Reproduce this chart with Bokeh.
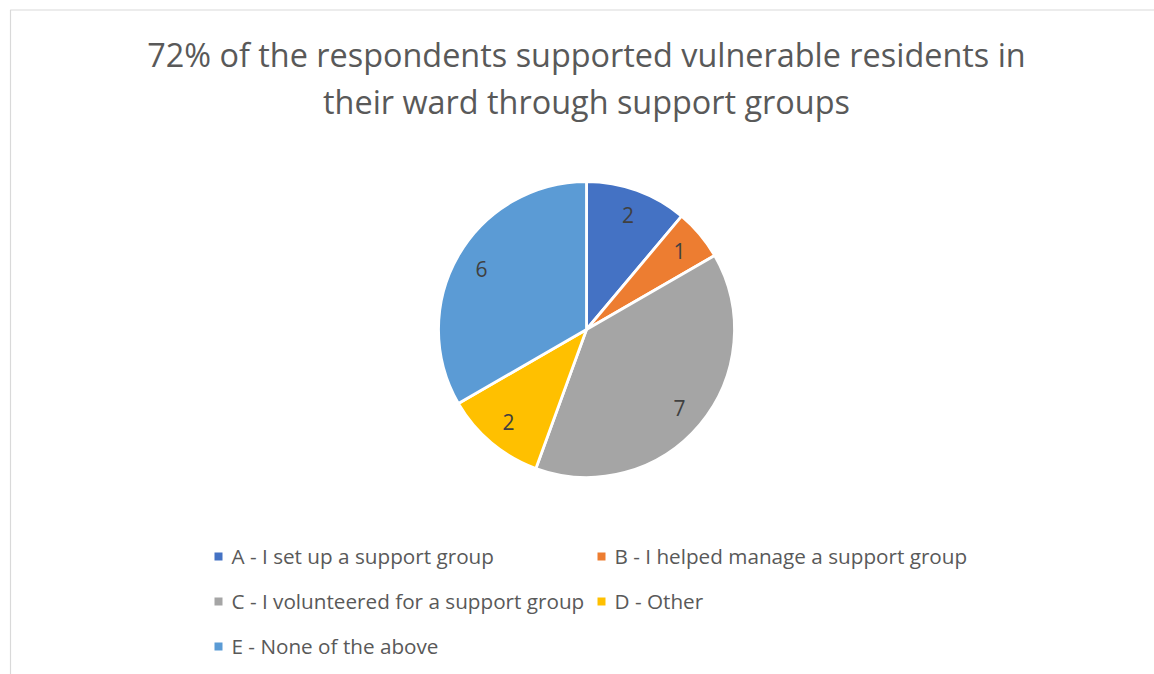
import math
from bokeh.plotting import figure
from bokeh.models import Range1d
from bokeh.core.properties import value
from bokeh.embed import file_html
from bokeh.resources import INLINE

# ---- data ----
title_lines = [
    "72% of the respondents supported vulnerable residents in",
    "their ward through support groups",
]
categories = [
    "A - I set up a support group",
    "B - I helped manage a support group",
    "C - I volunteered for a support group",
    "D - Other",
    "E - None of the above",
]
counts = [2, 1, 7, 2, 6]
colors = ["#4472C4", "#ED7D31", "#A5A5A5", "#FFC000", "#5B9BD5"]

# ---- layout (pixels) ----
W, H = 1154, 674
FONT = "Open Sans"
def Y(px):
    return H - px

CX, CY, R = 586, 329, 148

p = figure(width=W, height=H, x_range=Range1d(0, W), y_range=Range1d(0, H),
           output_backend="svg", toolbar_location=None, min_border=0)
p.axis.visible = False
p.grid.visible = False
p.outline_line_color = None
p.background_fill_color = "white"
p.border_fill_color = "white"

# frame
p.line([10, 10, W], [Y(H), Y(9.5), Y(9.5)], line_color="#D9D9D9", line_width=1.2)

# title
p.text(x=[586] * len(title_lines), y=[Y(53), Y(100)], text=title_lines,
       text_font=value(FONT), text_font_size="32.4px", text_color="#595959",
       text_align="center", text_baseline="middle")

# pie
total = sum(counts)
starts, ends, lx, ly = [], [], [], []
cum = 0
for c in counts:
    a0 = math.pi / 2 - 2 * math.pi * cum / total
    a1 = math.pi / 2 - 2 * math.pi * (cum + c) / total
    starts.append(a0)
    ends.append(a1)
    mid = (a0 + a1) / 2
    lx.append(CX + 0.82 * R * math.cos(mid))
    ly.append(Y(CY) + 0.82 * R * math.sin(mid))
    cum += c

p.wedge(x=CX, y=Y(CY), radius=R, start_angle=starts, end_angle=ends,
        direction="clock", fill_color=colors, line_color="white", line_width=2.8)

p.text(x=lx, y=ly, text=[str(c) for c in counts], text_font=value(FONT),
       text_font_size="21px", text_color="#404040",
       text_align="center", text_baseline="middle")

# legend
col_x = [218, 601]
row_y = [556, 601, 646]
mx, my, tx = [], [], []
for i, _ in enumerate(categories):
    cx = col_x[i % 2]
    ry = row_y[i // 2]
    mx.append(cx)
    my.append(Y(ry))
    tx.append(cx + 13)
p.rect(x=mx, y=my, width=8, height=8, fill_color=colors, line_color=None)
p.text(x=tx, y=[v + 1 for v in my], text=categories, text_font=value(FONT),
       text_font_size="20.7px", text_color="#595959",
       text_align="left", text_baseline="middle")

open("out.html", "w").write(file_html(p, INLINE))
